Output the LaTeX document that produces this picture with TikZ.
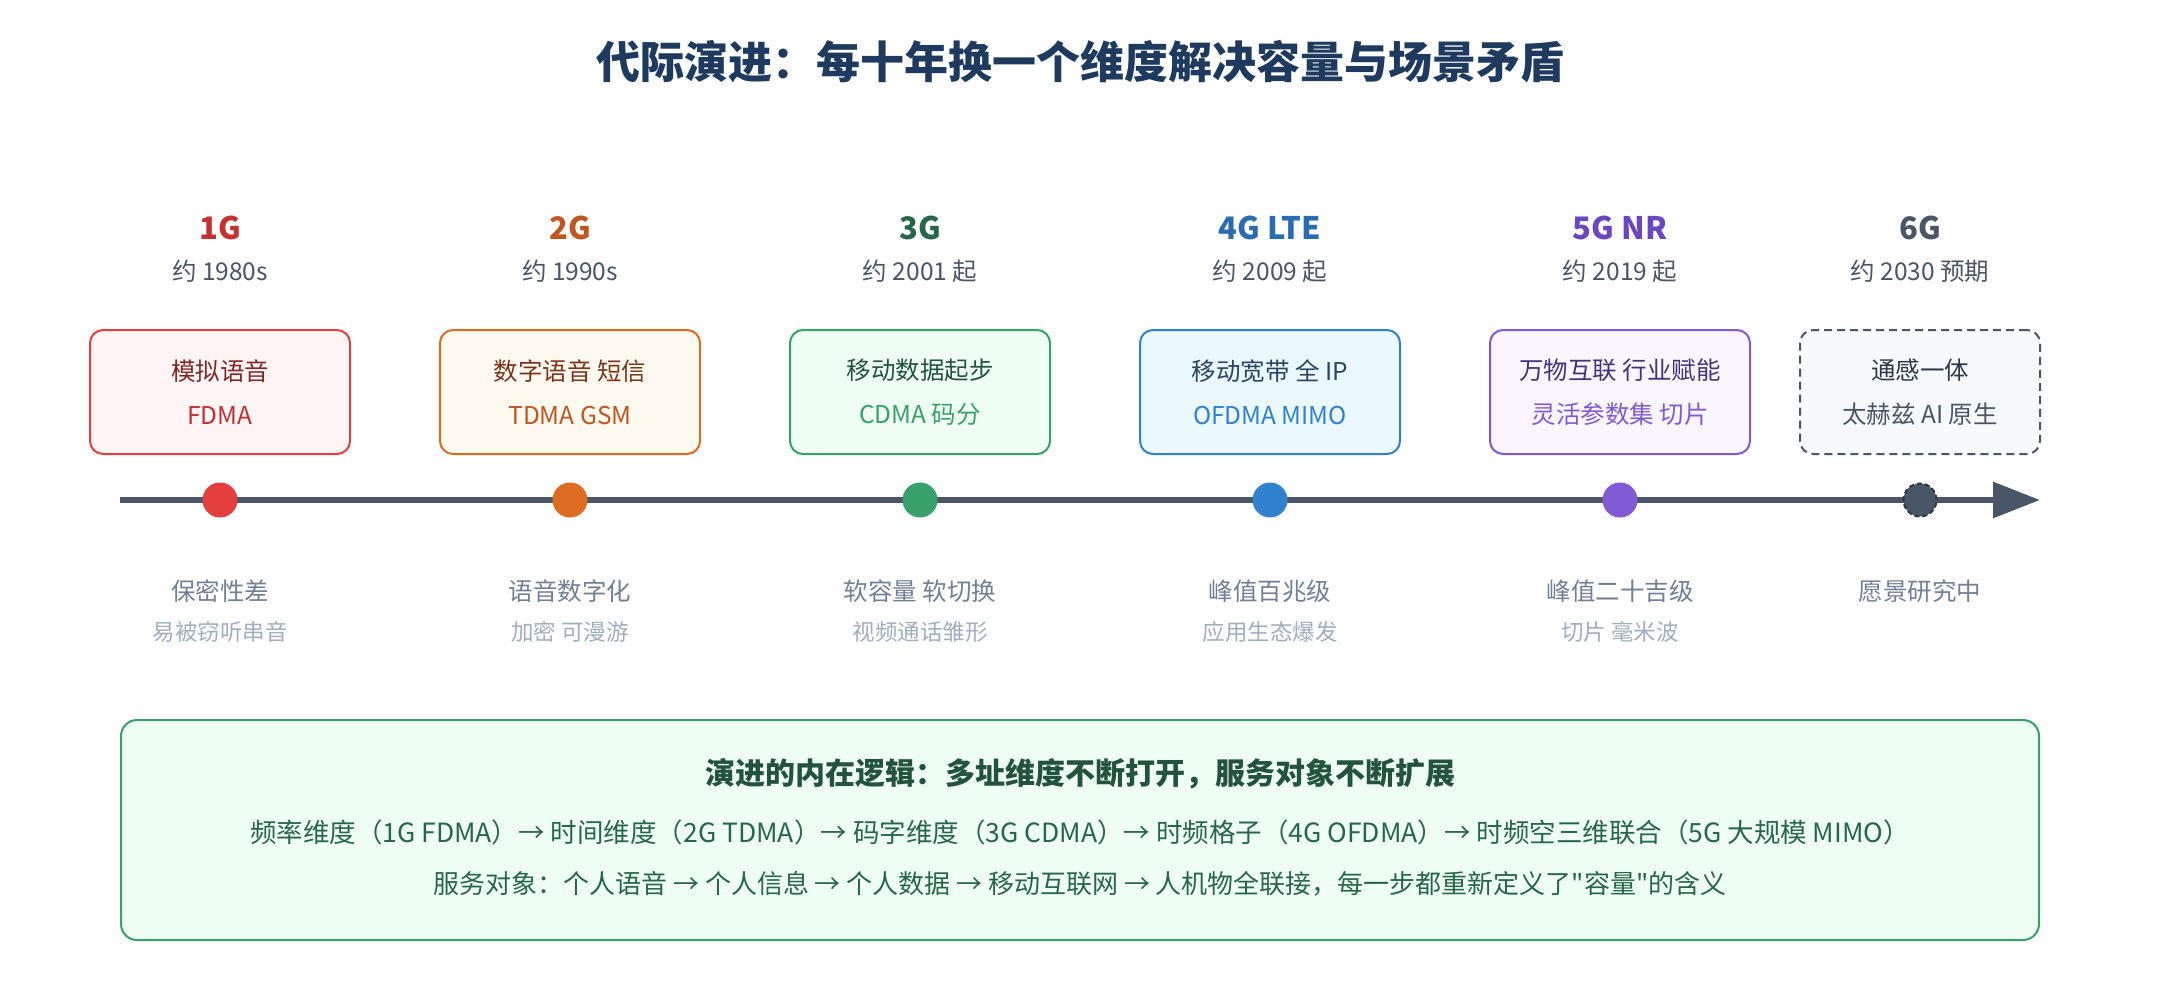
\documentclass[tikz,border=0pt]{standalone}
\usepackage{fontspec}
\setmainfont{Noto Sans CJK SC}
\usepackage{tikz}
\usetikzlibrary{arrows.meta,positioning}

\definecolor{navy}{HTML}{1E3A5F}
\definecolor{axis}{HTML}{4A5568}
\definecolor{yeargray}{HTML}{4A5568}
\definecolor{notegray}{HTML}{718096}
\definecolor{subgray}{HTML}{A0AEC0}
\definecolor{redA}{HTML}{C53030}\definecolor{redB}{HTML}{E53E3E}\definecolor{redC}{HTML}{FFF5F5}\definecolor{redD}{HTML}{822727}
\definecolor{orgA}{HTML}{C05621}\definecolor{orgB}{HTML}{DD6B20}\definecolor{orgC}{HTML}{FFFAF0}\definecolor{orgD}{HTML}{7B341E}
\definecolor{grnA}{HTML}{276749}\definecolor{grnB}{HTML}{38A169}\definecolor{grnC}{HTML}{F0FFF4}\definecolor{grnD}{HTML}{22543D}
\definecolor{bluA}{HTML}{2B6CB0}\definecolor{bluB}{HTML}{3182CE}\definecolor{bluC}{HTML}{EBF8FF}\definecolor{bluD}{HTML}{2A4365}
\definecolor{purA}{HTML}{6B46C1}\definecolor{purB}{HTML}{805AD5}\definecolor{purC}{HTML}{FAF5FF}\definecolor{purD}{HTML}{44337A}
\definecolor{gryA}{HTML}{4A5568}\definecolor{gryB}{HTML}{2D3748}\definecolor{gryC}{HTML}{F7FAFC}

\begin{document}
\begin{tikzpicture}[x=1pt,y=-1pt]
    \tikzset{era/.style = {font=\fontsize{31}{36}\selectfont\bfseries}}
    \tikzset{year/.style = {font=\fontsize{24.5}{28}\selectfont, text=yeargray}}
    \tikzset{card/.style = {shape=rectangle, draw, rounded corners=13pt, line width=2pt, minimum width=260pt, minimum height=124pt, align=center, font=\fontsize{24.5}{44}\selectfont}}
    \tikzset{dot/.style = {shape=circle, minimum size=35pt, inner sep=0pt}}
    \tikzset{note/.style = {font=\fontsize{24.5}{28}\selectfont, text=notegray}}
    \tikzset{subnote/.style = {font=\fontsize{22.5}{26}\selectfont, text=subgray}}
    \tikzset{logictext/.style = {font=\fontsize{26}{30}\selectfont, text=grnA}}

    \fill[white] (0,0) rectangle (2160,1000);
    \useasboundingbox (0,0) rectangle (2160,1000);

    % title
    \node[font=\fontsize{44}{50}\selectfont\bfseries, text=navy] (title) at (1080,62) {代际演进：每十年换一个维度解决容量与场景矛盾};

    % eras
    \node[era, text=redA] (g1) at (220,228) {1G};
    \node[era, text=orgA] (g2) at (570,228) {2G};
    \node[era, text=grnA] (g3) at (920,228) {3G};
    \node[era, text=bluA] (g4) at (1270,228) {4G LTE};
    \node[era, text=purA] (g5) at (1620,228) {5G NR};
    \node[era, text=gryA] (g6) at (1920,228) {6G};

    \node[year] (y1) at (220,271) {约 1980s};
    \node[year] (y2) at (570,271) {约 1990s};
    \node[year] (y3) at (920,271) {约 2001 起};
    \node[year] (y4) at (1270,271) {约 2009 起};
    \node[year] (y5) at (1620,271) {约 2019 起};
    \node[year] (y6) at (1920,271) {约 2030 预期};

    % cards
    \node[card, draw=redB, fill=redC] (c1) at (220,392) {\textcolor{redD}{模拟语音}\\\textcolor{redA}{FDMA}};
    \node[card, draw=orgB, fill=orgC] (c2) at (570,392) {\textcolor{orgD}{数字语音 短信}\\\textcolor{orgA}{TDMA GSM}};
    \node[card, draw=grnB, fill=grnC] (c3) at (920,392) {\textcolor{grnD}{移动数据起步}\\\textcolor{grnB}{CDMA 码分}};
    \node[card, draw=bluB, fill=bluC] (c4) at (1270,392) {\textcolor{bluD}{移动宽带 全 IP}\\\textcolor{bluB}{OFDMA MIMO}};
    \node[card, draw=purB, fill=purC] (c5) at (1620,392) {\textcolor{purD}{万物互联 行业赋能}\\\textcolor{purB}{灵活参数集 切片}};
    \node[card, draw=gryA, fill=gryC, dash pattern=on 8pt off 5pt, minimum width=240pt] (c6) at (1920,392) {\textcolor{gryB}{通感一体}\\\textcolor{gryA}{太赫兹 AI 原生}};

    % timeline
    \coordinate (start) at (120,500);
    \coordinate (end) at (2040,500);
    \draw[line width=6pt, draw=axis, -{Triangle[length=47pt,width=35pt]}] (start) -- (end);

    \node[dot, fill=redB] (d1) at (220,500) {};
    \node[dot, fill=orgB] (d2) at (570,500) {};
    \node[dot, fill=grnB] (d3) at (920,500) {};
    \node[dot, fill=bluB] (d4) at (1270,500) {};
    \node[dot, fill=purB] (d5) at (1620,500) {};
    \node[dot, fill=gryA, draw=gryB, dash pattern=on 5pt off 3pt, line width=2pt, minimum size=33pt] (d6) at (1920,500) {};

    % notes
    \node[note] (n1) at (220,591) {保密性差};
    \node[note] (n2) at (570,591) {语音数字化};
    \node[note] (n3) at (920,591) {软容量 软切换};
    \node[note] (n4) at (1270,591) {峰值百兆级};
    \node[note] (n5) at (1620,591) {峰值二十吉级};
    \node[note] (n6) at (1920,591) {愿景研究中};

    \node[subnote] (s1) at (220,632) {易被窃听串音};
    \node[subnote] (s2) at (570,632) {加密 可漫游};
    \node[subnote] (s3) at (920,632) {视频通话雏形};
    \node[subnote] (s4) at (1270,632) {应用生态爆发};
    \node[subnote] (s5) at (1620,632) {切片 毫米波};

    % logic panel
    \node[shape=rectangle, draw=grnB, fill=grnC, line width=2pt, rounded corners=16pt, minimum width=1918pt, minimum height=220pt] (logic) at (1080,830) {};
    \node[font=\fontsize{30}{34}\selectfont\bfseries, text=grnD] (logicTitle) at (1080,774) {演进的内在逻辑：多址维度不断打开，服务对象不断扩展};
    \node[logictext, font=\fontsize{26.5}{30}\selectfont] (logicDim) at (1080,832) {频率维度（1G FDMA）→ 时间维度（2G TDMA）→ 码字维度（3G CDMA）→ 时频格子（4G OFDMA）→ 时频空三维联合（5G 大规模 MIMO）};
    \node[logictext] (logicObj) at (1080,884) {服务对象：个人语音 → 个人信息 → 个人数据 → 移动互联网 → 人机物全联接，每一步都重新定义了\textquotedbl 容量\textquotedbl 的含义};
\end{tikzpicture}
\end{document}
